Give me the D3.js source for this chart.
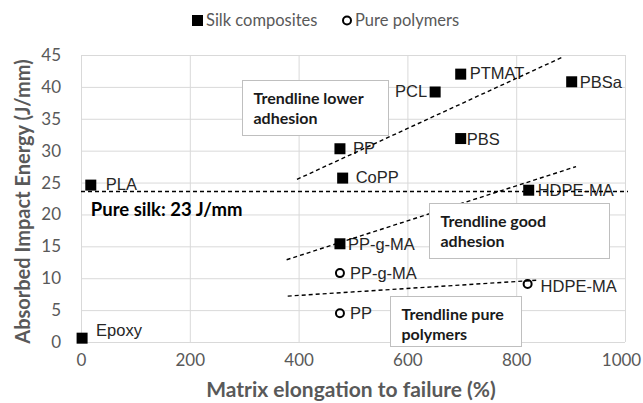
<!DOCTYPE html>
<html>
<head>
<meta charset="utf-8">
<script src="https://cdn.jsdelivr.net/npm/d3@7"></script>
<style>
  body { margin: 0; background: #fff; }
  .grid line { stroke: #d9d9d9; }
  .grid path { display: none; }
  .tick text { fill: #595959; font-family: Lato, sans-serif; font-size: 17px; }
  .lbl { font-family: "Liberation Sans", Arial, sans-serif; font-size: 16.5px; fill: #262626; }
  .trend { fill: none; stroke: #000; stroke-width: 1.4; stroke-dasharray: 4,3; }
  .box rect { fill: #fff; stroke: #bfbfbf; }
  .box text { font-family: Lato, sans-serif; font-weight: bold; font-size: 16px; fill: #1a1a1a; }
</style>
</head>
<body>
<div id="graph"></div>
<script>
// silk composites (filled squares)
var silkNames = ["Epoxy", "PLA", "PP", "CoPP", "PP-g-MA", "PCL", "PTMAT", "PBS", "PBSa", "HDPE-MA"];
var silkElong = [2, 18, 476, 481, 476, 651, 698, 698, 902, 823];
var silkEnergy = [0.6, 24.6, 30.3, 25.7, 15.4, 39.2, 42.0, 31.9, 40.8, 23.8];

// pure polymers (open circles)
var pureNames = ["PP-g-MA", "PP", "HDPE-MA"];
var pureElong = [476, 476, 821];
var pureEnergy = [10.8, 4.5, 9.1];

// trendlines: [x1, y1, x2, y2]
var trendLower = [397, 25.5, 886, 44.7];
var trendGood = [378, 12.9, 910, 27.5];
var trendPure = [380, 7.2, 840, 9.7];
var pureSilk = 23.6;

var xTicks = [0, 200, 400, 600, 800, 1000];
var yTicks = [0, 5, 10, 15, 20, 25, 30, 35, 40, 45];

var margin = { top: 55, right: 18, bottom: 61, left: 81 },
    width = 643 - margin.left - margin.right,
    height = 403 - margin.top - margin.bottom;

var svg = d3.select("#graph")
    .append("svg")
    .attr("width", 643)
    .attr("height", 403)
    .style("font-family", "Lato, sans-serif");

var g = svg.append("g")
    .attr("transform", "translate(" + margin.left + "," + margin.top + ")");

var x = d3.scaleLinear().domain([0, 1000]).range([0, width]);
var y = d3.scaleLinear().domain([0, 45]).range([height, 0]);

// grids
g.append("g")
    .attr("class", "grid")
    .attr("transform", "translate(0," + height + ")")
    .call(d3.axisBottom(x).tickValues(xTicks).tickSize(-height).tickFormat(""));
g.append("g")
    .attr("class", "grid")
    .call(d3.axisLeft(y).tickValues(yTicks).tickSize(-width).tickFormat(""));

// tick labels
g.append("g")
    .attr("transform", "translate(0," + height + ")")
    .call(d3.axisBottom(x).tickValues(xTicks).tickFormat(d3.format("d")).tickSize(0).tickPadding(12))
    .call(function (a) {
        a.select(".domain").remove();
        // keep the last label inside the page
        a.selectAll(".tick text").filter(function (d) { return d === 1000; }).attr("dx", -4);
    });
g.append("g")
    .call(d3.axisLeft(y).tickValues(yTicks).tickSize(0).tickPadding(20))
    .call(function (a) { a.select(".domain").remove(); });

// axis titles
svg.append("text")
    .attr("x", margin.left + width / 2 - 2)
    .attr("y", 397)
    .attr("text-anchor", "middle")
    .attr("font-weight", "bold")
    .attr("font-size", 21)
    .attr("fill", "#595959")
    .text("Matrix elongation to failure (%)");
svg.append("text")
    .attr("transform", "translate(30," + (margin.top + height / 2 + 3) + ") rotate(-90)")
    .attr("text-anchor", "middle")
    .attr("font-weight", "bold")
    .attr("font-size", 20)
    .attr("fill", "#595959")
    .text("Absorbed Impact Energy (J/mm)");

// label placement (dx, dy)
var silkLabelPos = {
    "Epoxy": [14, -2], "PLA": [15, 5], "PP": [13, 5], "CoPP": [13, 5], "PP-g-MA": [8, 6],
    "PCL": [-8, 5], "PTMAT": [9, 5], "PBS": [6, 6], "PBSa": [8, 6], "HDPE-MA": [9, 6]
};
var pureLabelPos = { "PP-g-MA": [10, 6], "PP": [10, 6], "HDPE-MA": [13, 8] };

var silk = silkNames.map(function (d, i) { return { name: d, x: silkElong[i], y: silkEnergy[i] }; });
var pure = pureNames.map(function (d, i) { return { name: d, x: pureElong[i], y: pureEnergy[i] }; });

g.selectAll(".sq")
    .data(silk)
    .enter().append("rect")
    .attr("x", function (d) { return x(d.x) - 5.5; })
    .attr("y", function (d) { return y(d.y) - 5.5; })
    .attr("width", 11)
    .attr("height", 11)
    .attr("fill", "#000");

g.selectAll(".circ")
    .data(pure)
    .enter().append("circle")
    .attr("cx", function (d) { return x(d.x); })
    .attr("cy", function (d) { return y(d.y); })
    .attr("r", 4)
    .attr("fill", "#fff")
    .attr("stroke", "#000")
    .attr("stroke-width", 2);

g.selectAll(".slbl")
    .data(silk)
    .enter().append("text")
    .attr("class", "lbl")
    .attr("x", function (d) { return x(d.x) + silkLabelPos[d.name][0]; })
    .attr("y", function (d) { return y(d.y) + silkLabelPos[d.name][1]; })
    .attr("text-anchor", function (d) { return silkLabelPos[d.name][0] < 0 ? "end" : "start"; })
    .text(function (d) { return d.name; });

g.selectAll(".plbl")
    .data(pure)
    .enter().append("text")
    .attr("class", "lbl")
    .attr("x", function (d) { return x(d.x) + pureLabelPos[d.name][0]; })
    .attr("y", function (d) { return y(d.y) + pureLabelPos[d.name][1]; })
    .text(function (d) { return d.name; });

// trendlines
[trendLower, trendGood, trendPure].forEach(function (t) {
    g.append("line")
        .attr("class", "trend")
        .attr("x1", x(t[0])).attr("y1", y(t[1]))
        .attr("x2", x(t[2])).attr("y2", y(t[3]));
});
g.append("line")
    .attr("class", "trend")
    .attr("x1", x(0)).attr("y1", y(pureSilk))
    .attr("x2", x(1000) + 3).attr("y2", y(pureSilk));

g.append("text")
    .attr("x", x(18))
    .attr("y", y(pureSilk) + 25)
    .attr("font-weight", "bold")
    .attr("font-size", 18.5)
    .attr("fill", "#000")
    .text("Pure silk: 23 J/mm");

// text boxes
function textBox(bx, by, bw, bh, lines) {
    var b = svg.append("g").attr("class", "box");
    b.append("rect").attr("x", bx).attr("y", by).attr("width", bw).attr("height", bh);
    lines.forEach(function (l, i) {
        b.append("text").attr("x", bx + 11).attr("y", by + 23 + i * 20).text(l);
    });
}
textBox(242.5, 80.5, 146, 55, ["Trendline lower", "adhesion"]);
textBox(429.5, 203.5, 180, 55, ["Trendline good", "adhesion"]);
textBox(390.5, 296.5, 131, 50, ["Trendline pure", "polymers"]);

// legend
var leg = svg.append("g").attr("font-size", 16.5).attr("fill", "#595959");
leg.append("rect").attr("x", 192).attr("y", 15).attr("width", 11).attr("height", 11).attr("fill", "#000");
leg.append("text").attr("x", 206).attr("y", 26).text("Silk composites");
leg.append("circle").attr("cx", 347).attr("cy", 20.5).attr("r", 4).attr("fill", "#fff")
    .attr("stroke", "#000").attr("stroke-width", 2);
leg.append("text").attr("x", 355).attr("y", 26).text("Pure polymers");
</script>
</body>
</html>
